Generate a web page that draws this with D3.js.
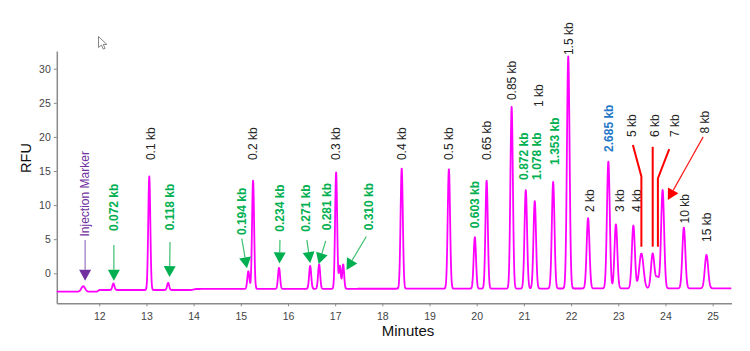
<!DOCTYPE html>
<html>
<head>
<meta charset="utf-8">
<script src="https://cdn.jsdelivr.net/npm/d3@7"></script>
<style>
  body { margin: 0; background: #fff; }
  svg { display: block; font-family: "Liberation Sans", Arial, sans-serif; }
</style>
</head>
<body>
<div id="chart"></div>
<script>
//electropherogram - fragment sizes vs migration time

//peaks (minutes, apex RFU, width in minutes)
const peakTimes   = [11.66, 12.30, 13.06, 13.46, 15.16, 15.26, 15.81, 16.47, 16.66, 17.02, 17.10, 17.17,
                     18.41, 19.41, 19.96, 20.21, 20.74, 21.04, 21.23, 21.62, 21.94, 22.36, 22.79, 22.95,
                     23.32, 23.49, 23.73, 23.83, 23.94, 24.39, 24.87];
const peakHeights = [-1.9, -1.5, 14.2, -1.4, 0.3, 13.6, 0.8, 1.1, 1.3, 14.8, 1.1, 1.3,
                     15.4, 15.3, 5.3, 13.6, 24.4, 12.2, 10.6, 13.4, 31.8, 8.1, 16.4, 7.2,
                     7.0, 2.9, 2.9, -0.6, 12.2, 6.7, 2.7];
const peakWidths  = [0.04, 0.022, 0.022, 0.022, 0.022, 0.022, 0.022, 0.022, 0.022, 0.022, 0.02, 0.02,
                     0.024, 0.025, 0.025, 0.025, 0.026, 0.027, 0.027, 0.028, 0.028, 0.03, 0.03, 0.03,
                     0.032, 0.045, 0.035, 0.035, 0.032, 0.032, 0.035];

//baseline level (slight drift steps)
const baseTimes = [11.1, 11.95, 12.0, 13.95, 14.05, 25.4];
const baseVals  = [-2.7, -2.7, -2.45, -2.45, -2.3, -2.2];

//axis ticks
const xTicks = [12, 13, 14, 15, 16, 17, 18, 19, 20, 21, 22, 23, 24, 25];
const yTicks = [0, 5, 10, 15, 20, 25, 30];

//rotated peak labels: text, minutes, RFU at text start, style
const labelTexts = ["Injection Marker", "0.072 kb", "0.1 kb", "0.118 kb", "0.194 kb", "0.2 kb", "0.234 kb",
                    "0.271 kb", "0.281 kb", "0.3 kb", "0.310 kb", "0.4 kb", "0.5 kb", "0.603 kb", "0.65 kb",
                    "0.85 kb", "0.872 kb", "1.078 kb", "1 kb", "1.353 kb", "1.5 kb", "2 kb", "2.685 kb",
                    "3 kb", "4 kb", "5 kb", "6 kb", "7 kb", "8 kb", "10 kb", "15 kb"];
const labelTimes = [11.70, 12.31, 13.08, 13.50, 15.02, 15.26, 15.83, 16.38, 16.83, 17.00, 17.70, 18.42,
                    19.41, 19.96, 20.21, 20.74, 20.99, 21.27, 21.31, 21.66, 21.94, 22.40, 22.79, 23.02,
                    23.39, 23.29, 23.78, 24.20, 24.84, 24.40, 24.87];
const labelRfu   = [5.4, 6.2, 16.6, 6.3, 5.6, 16.6, 6.1, 6.1, 6.3, 16.6, 6.3, 16.6, 16.6, 6.6, 16.6,
                    25.4, 13.7, 13.7, 24.4, 15.9, 32.0, 9.0, 17.8, 9.0, 9.0, 20.0, 20.0, 20.0, 20.5, 7.3, 4.6];
const labelKind  = ["marker", "new", "ladder", "new", "new", "ladder", "new", "new", "new", "ladder", "new",
                    "ladder", "ladder", "new", "ladder", "ladder", "new", "new", "ladder", "new", "ladder",
                    "ladder", "blue", "ladder", "ladder", "ladder", "ladder", "ladder", "ladder", "ladder", "ladder"];

//pointer arrows: start (minutes, RFU) and tip (minutes, RFU)
const arrowKind  = ["marker", "new", "new", "new", "new", "new", "new", "new", "red"];
const arrowFromT = [11.70, 12.31, 13.50, 15.02, 15.83, 16.40, 16.80, 17.66, 24.80];
const arrowFromV = [4.9, 4.15, 4.6, 5.1, 4.9, 4.9, 4.75, 5.4, 20.0];
const arrowToT   = [11.70, 12.31, 13.49, 15.13, 15.82, 16.47, 16.65, 17.24, 24.05];
const arrowToV   = [-1.1, -1.1, -0.55, 0.73, 1.45, 1.5, 1.35, 0.5, 10.75];

//red leader lines for 5, 6 and 7 kb
const leaderT = [[23.31, 23.49, 23.49], [23.73, 23.73], [24.08, 23.84, 23.84]];
const leaderV = [[18.8, 14.2, 3.9], [18.55, 3.9], [18.2, 13.9, 3.9]];

const colors = { ladder: "#222", new: "#00b050", blue: "#1f78c8", marker: "#7030a0", red: "#ff0000" };
const lineColors = { new: "#3cbf6e", marker: "#9a72c2", red: "#ff2020" };

var svg = d3.select("#chart").append("svg")
    .attr("width", 750)
    .attr("height", 351);

var x = d3.scaleLinear().domain([11.1, 25.4]).range([56.8, 731.5]);
var y = d3.scaleLinear().domain([-4.4, 32.6]).range([303.3, 51]);
var base = d3.scaleLinear().domain(baseTimes).range(baseVals);

//x axis
var xAxis = svg.append("g")
    .attr("transform", "translate(0," + y(-4.4) + ")")
    .call(d3.axisBottom(x).tickValues(xTicks).tickSize(3).tickSizeOuter(0));
xAxis.selectAll("text").attr("font-size", 10.5).attr("fill", "#444").attr("dy", "1.0em");

//y axis
var yAxis = svg.append("g")
    .attr("transform", "translate(" + x(11.1) + ",0)")
    .call(d3.axisLeft(y).tickValues(yTicks).tickSize(3).tickSizeOuter(0));
yAxis.selectAll("text").attr("font-size", 10.5).attr("fill", "#444");

svg.selectAll(".domain").attr("stroke", "#8a8a8a").attr("stroke-width", 1.5);
svg.selectAll(".tick line").attr("stroke", "#8a8a8a");
svg.selectAll(".tick text").attr("font-family", "Liberation Sans, Arial, sans-serif");

//axis titles
svg.append("text")
    .attr("x", 408).attr("y", 336)
    .attr("text-anchor", "middle")
    .attr("font-size", 15).attr("fill", "#111")
    .text("Minutes");

svg.append("text")
    .attr("transform", "translate(31," + 158 + ") rotate(-90)")
    .attr("text-anchor", "middle")
    .attr("font-size", 14.5).attr("fill", "#111")
    .text("RFU");

//build trace: baseline plus a gaussian for each peak
var trace = [];
for (var t = 11.1; t <= 25.4; t += 0.004) {
    var v = base(t);
    for (var i = 0; i < peakTimes.length; i++) {
        var amp = peakHeights[i] - base(peakTimes[i]);
        var d = (t - peakTimes[i]) / peakWidths[i];
        if (Math.abs(d) < 6) v += amp * Math.exp(-0.5 * d * d);
    }
    trace.push([t, v]);
}

svg.append("path")
    .datum(trace)
    .attr("fill", "none")
    .attr("stroke", "#ff00ff")
    .attr("stroke-width", 1.8)
    .attr("stroke-linejoin", "round")
    .attr("d", d3.line().x(d => x(d[0])).y(d => y(d[1])));

//labels
labelTexts.forEach(function(txt, i) {
    var k = labelKind[i];
    svg.append("text")
        .attr("transform", "translate(" + x(labelTimes[i]) + "," + y(labelRfu[i]) + ") rotate(-90)")
        .attr("dy", "0.36em")
        .attr("font-size", 12)
        .attr("font-weight", (k == "new" || k == "blue") ? "bold" : "normal")
        .attr("fill", colors[k])
        .text(txt);
});

//leader lines
leaderT.forEach(function(ts, j) {
    var pts = ts.map((t, n) => [x(t), y(leaderV[j][n])]);
    svg.append("path")
        .attr("d", d3.line()(pts))
        .attr("fill", "none")
        .attr("stroke", "#ff0000")
        .attr("stroke-width", 2);
});

//arrows with triangle heads
arrowKind.forEach(function(k, i) {
    var x1 = x(arrowFromT[i]), y1 = y(arrowFromV[i]);
    var x2 = x(arrowToT[i]), y2 = y(arrowToV[i]);
    var len = Math.hypot(x2 - x1, y2 - y1);
    var ux = (x2 - x1) / len, uy = (y2 - y1) / len;
    var hl = 11, hw = 6;
    var bx = x2 - ux * hl, by = y2 - uy * hl;

    svg.append("line")
        .attr("x1", x1).attr("y1", y1)
        .attr("x2", bx).attr("y2", by)
        .attr("stroke", lineColors[k])
        .attr("stroke-width", 1.2);

    svg.append("path")
        .attr("d", "M" + x2 + "," + y2 +
                   "L" + (bx - uy * hw) + "," + (by + ux * hw) +
                   "L" + (bx + uy * hw) + "," + (by - ux * hw) + "Z")
        .attr("fill", colors[k]);
});

//mouse pointer left in the screenshot
svg.append("path")
    .attr("transform", "translate(98.5,36.5)")
    .attr("d", "M0,0 L0,11 L2.8,8.6 L4.8,12.6 L6.6,11.8 L4.7,7.9 L8.3,7.9 Z")
    .attr("fill", "#fff")
    .attr("stroke", "#777")
    .attr("stroke-width", 0.9);
</script>
</body>
</html>
